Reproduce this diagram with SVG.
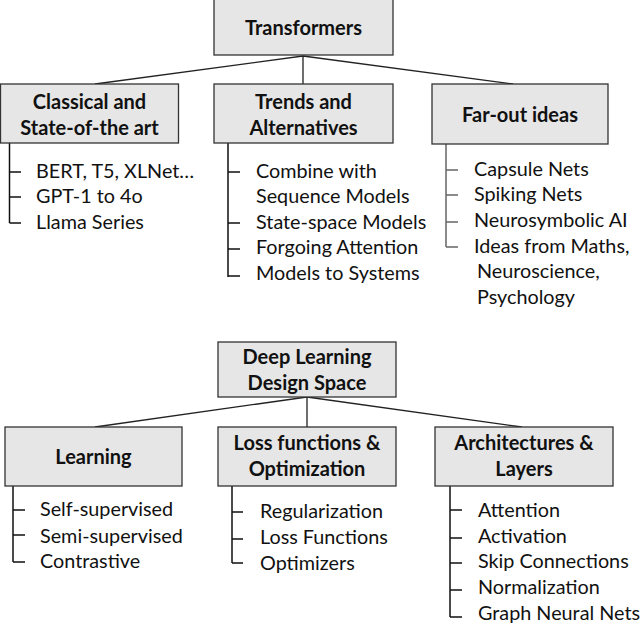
<svg xmlns="http://www.w3.org/2000/svg" width="640" height="625" viewBox="0 0 640 625">
<style>
.box{fill:#e6e6e6;stroke:#333;stroke-width:1.3}
.h{font-family:Lato,"Liberation Sans",sans-serif;font-weight:bold;font-size:20px;fill:#111;text-anchor:middle}
.t{font-family:Lato,"Liberation Sans",sans-serif;font-size:19.8px;fill:#111}
.ln{stroke:#222;stroke-width:1.3;fill:none}
.tr{stroke:#111;stroke-width:1.5;fill:none}
.tg{stroke:#666;stroke-width:1.5;fill:none}
</style>
<rect width="640" height="625" fill="#fff"/>
<g id="connectors">
<path class="ln" d="M303 56 L95 84 M303 56 V84 M303 56 L513 84"/>
<path class="ln" d="M307 397 L95 427 M307 397 V427 M307 397 L522 427"/>
<path class="tr" d="M9.5 143 V223 M9.5 172 H21 M9.5 197 H21 M9.5 223 H21"/>
<path class="tr" d="M228 143 V277 M228 172 H240 M228 223 H240 M228 249 H240 M228 276 H240"/>
<path class="tg" d="M446 144 V247 M446 170 H458 M446 195 H458 M446 222 H458 M446 247 H458"/>
<path class="tr" d="M13 486 V562 M13 510 H25 M13 535 H25 M13 562 H25"/>
<path class="tr" d="M232 486 V563 M232 512 H243 M232 539 H243 M232 563 H243"/>
<path class="tr" d="M450 486 V617 M450 510 H462 M450 538 H462 M450 563 H462 M450 590 H462 M450 617 H462"/>
</g>
<g id="transformers">
<rect class="box" x="214" y="-1" width="179" height="56"/>
<text class="h" x="303.5" y="35">Transformers</text>
</g>
<g id="classical">
<rect class="box" x="0.5" y="84" width="178" height="59"/>
<text class="h" x="89.5" y="109">Classical and</text>
<text class="h" x="89.5" y="135">State-of-the art</text>
<text class="t" x="36" y="178">BERT, T5, XLNet…</text>
<text class="t" x="36" y="203">GPT-1 to 4o</text>
<text class="t" x="36" y="229">Llama Series</text>
</g>
<g id="trends">
<rect class="box" x="214" y="84" width="179" height="59"/>
<text class="h" x="303.5" y="109">Trends and</text>
<text class="h" x="303.5" y="135">Alternatives</text>
<text class="t" x="256" y="178">Combine with</text>
<text class="t" x="256" y="203">Sequence Models</text>
<text class="t" x="256" y="229">State-space Models</text>
<text class="t" x="256" y="254">Forgoing Attention</text>
<text class="t" x="256" y="280">Models to Systems</text>
</g>
<g id="farout">
<rect class="box" x="432" y="84" width="176" height="60"/>
<text class="h" x="520" y="122">Far-out ideas</text>
<text class="t" x="474" y="176">Capsule Nets</text>
<text class="t" x="474" y="201">Spiking Nets</text>
<text class="t" x="474" y="227">Neurosymbolic AI</text>
<text class="t" x="474" y="253">Ideas from Maths,</text>
<text class="t" x="477" y="278">Neuroscience,</text>
<text class="t" x="477" y="304">Psychology</text>
</g>
<g id="dlds">
<rect class="box" x="218" y="342" width="178" height="55"/>
<text class="h" x="307" y="364">Deep Learning</text>
<text class="h" x="307" y="390">Design Space</text>
</g>
<g id="learning">
<rect class="box" x="5" y="427" width="177" height="59"/>
<text class="h" x="93.5" y="464">Learning</text>
<text class="t" x="40" y="516">Self-supervised</text>
<text class="t" x="40" y="543">Semi-supervised</text>
<text class="t" x="40" y="568">Contrastive</text>
</g>
<g id="loss">
<rect class="box" x="218" y="427" width="178" height="59"/>
<text class="h" x="307" y="450">Loss functions &amp;</text>
<text class="h" x="307" y="476">Optimization</text>
<text class="t" x="260" y="518">Regularization</text>
<text class="t" x="260" y="544">Loss Functions</text>
<text class="t" x="260" y="570">Optimizers</text>
</g>
<g id="arch">
<rect class="box" x="435" y="427" width="178" height="59"/>
<text class="h" x="524" y="450">Architectures &amp;</text>
<text class="h" x="524" y="476">Layers</text>
<text class="t" x="478" y="517">Attention</text>
<text class="t" x="478" y="543">Activation</text>
<text class="t" x="478" y="568">Skip Connections</text>
<text class="t" x="478" y="594">Normalization</text>
<text class="t" x="478" y="620">Graph Neural Nets</text>
</g>
</svg>
